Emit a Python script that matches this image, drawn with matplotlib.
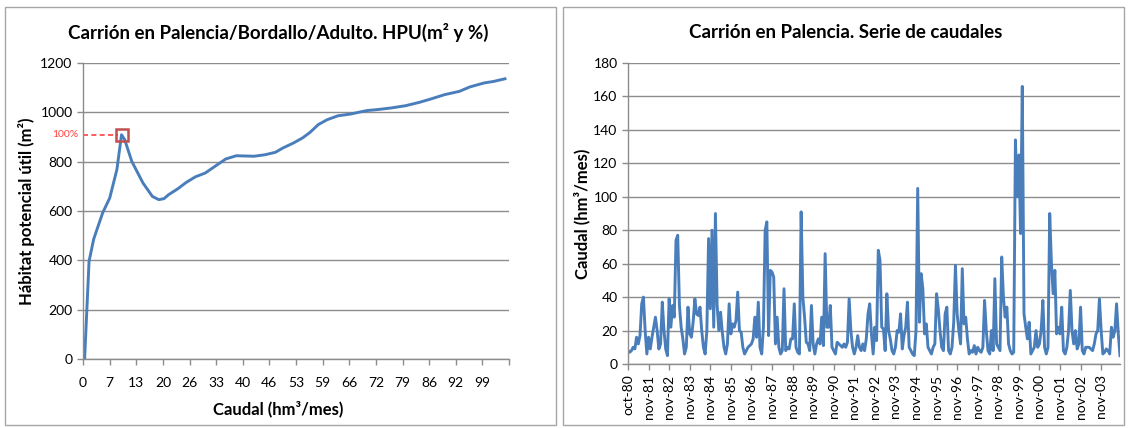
import numpy as np
import matplotlib.pyplot as plt
from matplotlib.patches import Rectangle

plt.rcParams['font.family'] = ['Lato', 'DejaVu Sans']

# ---- curva HPU (caudal, habitat) ----
hpu_q = [0.4, 1.5, 2.65, 4.86, 6.63, 8.4, 9.55, 10.34, 12.1, 14.85, 17.2, 18.8,
         20.07, 21.2, 23.4, 25.6, 27.8, 30.3, 32.7, 35.4, 38.0, 42.4, 45.1, 47.7,
         49.5, 52.2, 54.4, 56.3, 58.3, 60.5, 63.2, 66.3, 70.3, 72.9, 76.5, 80.0,
         83.5, 86.2, 89.7, 93.3, 95.9, 99.4, 101.7, 104.6]
hpu_a = [0, 396, 486, 592, 653, 768, 909, 889, 801, 714, 659, 646,
         650, 666, 689, 716, 738, 754, 781, 811, 824, 822, 828, 838,
         855, 876, 896, 919, 950, 970, 986, 993, 1007, 1011, 1018, 1027,
         1041, 1054, 1072, 1085, 1103, 1119, 1125, 1136]
hpu_max_q = 9.55
hpu_max_a = 909
hpu_xlabels = ['0', '7', '13', '20', '26', '33', '40', '46', '53', '59',
               '66', '72', '79', '86', '92', '99', '']

# ---- serie mensual de caudales (oct-80 .. sep-04), un año hidrológico por fila ----
y80 = [8, 7, 8, 10, 9, 16, 12, 17, 36, 40, 20, 6]
y81 = [16, 9, 16, 22, 28, 20, 9, 12, 37, 20, 9, 5]
y82 = [39, 22, 35, 28, 74, 77, 35, 22, 15, 6, 10, 34]
y83 = [18, 16, 25, 39, 30, 29, 34, 20, 10, 6, 20, 75]
y84 = [33, 80, 22, 90, 35, 20, 31, 19, 10, 6, 12, 36]
y85 = [18, 24, 22, 26, 43, 20, 19, 10, 6, 8, 10, 11]
y86 = [12, 15, 28, 16, 37, 10, 6, 22, 80, 85, 17, 56]
y87 = [55, 52, 12, 28, 10, 6, 8, 45, 8, 10, 9, 15]
y88 = [15, 36, 10, 7, 6, 91, 40, 28, 13, 12, 8, 35]
y89 = [12, 6, 12, 15, 12, 28, 11, 66, 22, 22, 35, 10]
y90 = [8, 6, 13, 12, 11, 10, 12, 10, 13, 39, 20, 10]
y91 = [6, 10, 17, 10, 8, 12, 8, 15, 30, 36, 18, 6]
y92 = [22, 14, 68, 62, 22, 21, 8, 42, 20, 15, 8, 6]
y93 = [10, 20, 19, 30, 9, 17, 22, 37, 10, 8, 6, 5]
y94 = [20, 105, 25, 54, 45, 18, 24, 10, 8, 6, 10, 12]
y95 = [42, 33, 20, 10, 8, 30, 34, 8, 6, 10, 25, 59]
y96 = [30, 20, 12, 57, 24, 28, 15, 6, 8, 7, 11, 6]
y97 = [10, 8, 7, 10, 38, 20, 8, 6, 20, 8, 51, 12]
y98 = [10, 8, 64, 40, 28, 34, 12, 8, 6, 7, 134, 100]
y99 = [125, 78, 166, 30, 22, 15, 25, 6, 8, 10, 20, 10]
y00 = [12, 20, 38, 10, 6, 10, 90, 60, 42, 56, 18, 22]
y01 = [18, 34, 8, 6, 10, 20, 44, 20, 12, 20, 9, 12]
y02 = [34, 8, 6, 10, 10, 10, 9, 8, 12, 18, 20, 39]
y03 = [20, 6, 7, 9, 8, 6, 22, 16, 20, 36, 18, 5]
years = [y80, y81, y82, y83, y84, y85, y86, y87, y88, y89, y90, y91,
         y92, y93, y94, y95, y96, y97, y98, y99, y00, y01, y02, y03]
caudal = [v for y in years for v in y]
mes_labels = ['oct-80', 'nov-81', 'nov-82', 'nov-83', 'nov-84', 'nov-85', 'nov-86',
              'nov-87', 'nov-88', 'nov-89', 'nov-90', 'nov-91', 'nov-92', 'nov-93',
              'nov-94', 'nov-95', 'nov-96', 'nov-97', 'nov-98', 'nov-99', 'nov-00',
              'nov-01', 'nov-02', 'nov-03']

W, H = 1128, 428
BLUE = '#4A7EBB'
GRID = '#8C8C8C'

fig = plt.figure(figsize=(W / 100, H / 100), dpi=100)


def box(l, t, r, b):
    # caja en pixeles (origen arriba-izquierda) -> fracción de figura
    return [l / W, 1 - b / H, (r - l) / W, (b - t) / H]


# marcos de los dos gráficos
for (l, t, r, b) in [(5, 7, 556, 425), (563, 7, 1124, 425)]:
    fig.patches.append(Rectangle((l / W, 1 - b / H), (r - l) / W, (b - t) / H,
                                 transform=fig.transFigure, fill=False,
                                 edgecolor='#A6A6A6', lw=1))


def style(ax):
    for s in ['top', 'right']:
        ax.spines[s].set_visible(False)
    for s in ['left', 'bottom']:
        ax.spines[s].set_color(GRID)
        ax.spines[s].set_linewidth(1)
    ax.grid(axis='y', color=GRID, lw=1)
    ax.set_axisbelow(True)
    ax.tick_params(colors=GRID, labelcolor='black', labelsize=10, length=4, width=1)


# ---- gráfico izquierdo ----
ax1 = fig.add_axes(box(83, 63, 509, 359))
style(ax1)
ax1.plot(hpu_q, hpu_a, color=BLUE, lw=2.1)
ax1.set_xlim(0, 6.6 * 16)
ax1.set_ylim(0, 1200)
ax1.set_yticks(np.arange(0, 1201, 200))
ax1.set_xticks(6.6 * np.arange(len(hpu_xlabels)))
ax1.set_xticklabels(hpu_xlabels)
ax1.tick_params(axis='x', pad=9)
ax1.plot([0, hpu_max_q - 0.9], [hpu_max_a, hpu_max_a], color='#FF4040', lw=1.2,
         ls=(0, (3, 2)))
ax1.plot(hpu_max_q, hpu_max_a, marker='s', ms=9, mfc='none', mec='#C0504D', mew=1.8)
ax1.text(-1.2, hpu_max_a, '100%', color='#FF4040', fontsize=7.5, ha='right', va='center')
ax1.set_ylabel('Hábitat potencial útil (m²)', fontsize=12, fontweight='bold', labelpad=4)
fig.text(278 / W, 1 - 409 / H, 'Caudal (hm³/mes)', fontsize=12, fontweight='bold',
         ha='center', va='center')
fig.text(278 / W, 1 - 32 / H, 'Carrión en Palencia/Bordallo/Adulto. HPU(m² y %)',
         fontsize=13.5, fontweight='bold', ha='center', va='center')

# ---- gráfico derecho ----
ax2 = fig.add_axes(box(628, 63, 1120, 364))
style(ax2)
ax2.plot(np.arange(len(caudal)), caudal, color=BLUE, lw=2.1)
ax2.set_xlim(0, len(caudal) - 1)
ax2.set_ylim(0, 180)
ax2.set_yticks(np.arange(0, 181, 20))
ax2.set_xticks(np.arange(0, 12 * len(mes_labels), 12))
ax2.set_xticklabels(mes_labels, rotation=90)
ax2.set_ylabel('Caudal (hm³/mes)', fontsize=12, fontweight='bold', labelpad=2)
fig.text(846 / W, 1 - 32 / H, 'Carrión en Palencia. Serie de caudales',
         fontsize=13.5, fontweight='bold', ha='center', va='center')

fig.savefig('out.png', dpi=100)
